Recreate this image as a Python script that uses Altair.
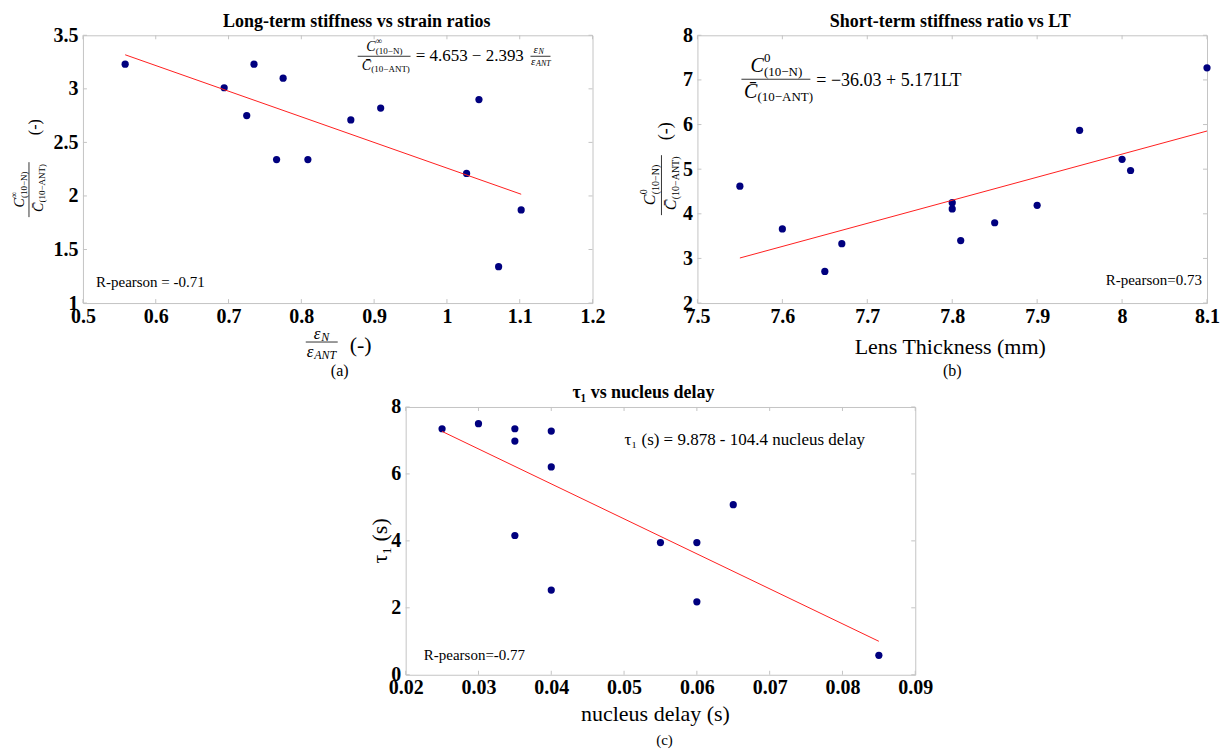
import altair as alt
import pandas as pd

# ---------------- data ----------------
# (a) long-term stiffness ratio vs strain ratio
a_strain = [0.558, 0.694, 0.725, 0.735, 0.766, 0.775, 0.809, 0.868, 0.909, 1.027, 1.044, 1.071, 1.102]
a_stiff = [3.23, 3.01, 2.75, 3.23, 2.34, 3.10, 2.34, 2.71, 2.82, 2.21, 2.90, 1.34, 1.87]
a_fit_x = [0.558, 1.102]
a_fit_y = [3.318, 2.016]
a_xticks = [0.5, 0.6, 0.7, 0.8, 0.9, 1.0, 1.1, 1.2]
a_yticks = [1.0, 1.5, 2.0, 2.5, 3.0, 3.5]

# (b) short-term stiffness ratio vs lens thickness
b_lt = [7.55, 7.60, 7.65, 7.67, 7.80, 7.80, 7.81, 7.85, 7.90, 7.95, 8.00, 8.01, 8.10]
b_ratio = [4.62, 3.66, 2.71, 3.33, 4.25, 4.11, 3.40, 3.80, 4.19, 5.87, 5.22, 4.97, 7.27]
b_fit_x = [7.55, 8.10]
b_fit_y = [3.01, 5.855]
b_xticks = [7.5, 7.6, 7.7, 7.8, 7.9, 8.0, 8.1]
b_yticks = [2, 3, 4, 5, 6, 7, 8]

# (c) tau1 vs nucleus delay
c_delay = [0.025, 0.030, 0.035, 0.035, 0.035, 0.040, 0.040, 0.040, 0.055, 0.060, 0.060, 0.065, 0.085]
c_tau = [7.35, 7.50, 7.35, 6.98, 4.16, 7.28, 6.21, 2.53, 3.95, 3.95, 2.18, 5.08, 0.58]
c_fit_x = [0.025, 0.085]
c_fit_y = [7.27, 1.00]
c_xticks = [0.02, 0.03, 0.04, 0.05, 0.06, 0.07, 0.08, 0.09]
c_yticks = [0, 2, 4, 6, 8]

titles = ["Long-term stiffness vs strain ratios", "Short-term stiffness ratio vs LT",
          "\u03c4\u2081 vs nucleus delay"]
r_texts = ["R-pearson =  -0.71", "R-pearson=0.73", "R-pearson=-0.77"]
panel_tags = ["(a)", "(b)", "(c)"]

# ---------------- style ----------------
FONT = "Liberation Serif"
GREY = "#c4c4c4"
NAVY = "#00007f"
RED = "#ff1f1f"
W, H = 510, 268
ONE = pd.DataFrame({"k": [0]})
CBAR = "C\u0304"


def xaxis(ticks):
    return alt.Axis(values=ticks, format="~g", title="", grid=False, ticks=False, domain=False,
                    labelFont=FONT, labelFontWeight="bold", labelFontSize=20, labelColor="black",
                    labelPadding=3, labelFlush=False, labelOverlap=False)


def yaxis(ticks):
    return alt.Axis(values=ticks, format="~g", title="", grid=False, ticks=False, domain=False,
                    labelFont=FONT, labelFontWeight="bold", labelFontSize=20, labelColor="black",
                    labelPadding=5, labelFlush=False, labelOverlap=False)


AXES = {
    "a": (xaxis(a_xticks), yaxis(a_yticks)),
    "b": (xaxis(b_xticks), yaxis(b_yticks)),
    "c": (xaxis(c_xticks), yaxis(c_yticks)),
}


def dtext(p, s, x, y, size, dx=0, dy=0, style="normal", align="left", baseline="alphabetic"):
    xa, ya = AXES[p]
    return alt.Chart(ONE).mark_text(text=s, font=FONT, fontSize=size, fontStyle=style,
                                    align=align, baseline=baseline, dx=dx, dy=dy,
                                    color="black").encode(
        x=alt.XDatum(datum=x, axis=xa), y=alt.YDatum(datum=y, axis=ya))


def drule(p, x1, x2, y):
    xa, ya = AXES[p]
    return alt.Chart(ONE).mark_rule(color="black", strokeWidth=0.8).encode(
        x=alt.XDatum(datum=x1, axis=xa), x2=alt.X2Datum(datum=x2), y=alt.YDatum(datum=y, axis=ya))


def ptext(s, x, y, size, angle=0, style="normal", align="left", baseline="alphabetic"):
    mk = dict(text=s, font=FONT, fontSize=size, fontStyle=style, align=align,
              baseline=baseline, color="black")
    if angle:
        mk["angle"] = angle
    return alt.Chart(ONE).mark_text(**mk).encode(x=alt.value(x), y=alt.value(y))


def prule(x1, y1, x2, y2):
    return alt.Chart(ONE).mark_rule(color="black", strokeWidth=0.8).encode(
        x=alt.value(x1), x2=alt.value(x2), y=alt.value(y1), y2=alt.value(y2))


def panel(p, xs, ys, fx, fy, xdom, ydom, xt, yt, title, tdx, toff, extras):
    xa, ya = AXES[p]
    xs_ = alt.Scale(domain=xdom, nice=False, zero=False)
    ys_ = alt.Scale(domain=ydom, nice=False, zero=False)
    pts = alt.Chart(pd.DataFrame({"x": xs, "y": ys})).mark_circle(
        size=52, color=NAVY, opacity=1).encode(
        x=alt.X("x:Q", scale=xs_, axis=xa), y=alt.Y("y:Q", scale=ys_, axis=ya))
    fit = alt.Chart(pd.DataFrame({"x": fx, "y": fy})).mark_line(color=RED, strokeWidth=1).encode(
        x=alt.X("x:Q", scale=xs_, axis=xa), y=alt.Y("y:Q", scale=ys_, axis=ya))
    xtd = alt.Chart(pd.DataFrame({"x": xt}))
    ytd = alt.Chart(pd.DataFrame({"y": yt}))
    tk = dict(color=GREY, strokeWidth=1)
    ticks = [
        xtd.mark_rule(**tk).encode(x=alt.X("x:Q", scale=xs_, axis=xa), y=alt.value(H), y2=alt.value(H - 4)),
        xtd.mark_rule(**tk).encode(x=alt.X("x:Q", scale=xs_, axis=xa), y=alt.value(0), y2=alt.value(4)),
        ytd.mark_rule(**tk).encode(y=alt.Y("y:Q", scale=ys_, axis=ya), x=alt.value(0), x2=alt.value(4)),
        ytd.mark_rule(**tk).encode(y=alt.Y("y:Q", scale=ys_, axis=ya), x=alt.value(W), x2=alt.value(W - 4)),
    ]
    return alt.layer(pts, *ticks, fit, *extras).properties(
        width=W, height=H,
        title=alt.TitleParams(title, font=FONT, fontSize=18, fontWeight="bold", color="black",
                              frame="group", offset=toff, dx=tdx))


# ---------- panel (a) annotations ----------
ax0, ay0 = 0.8774, 3.304
a_extra = [
    dtext("a", r_texts[0], 0.518, 1.2, 15, baseline="middle"),
    drule("a", ax0, 0.950, ay0),
    dtext("a", "C", ax0, ay0, 14, dx=8.7, dy=-5, style="italic"),
    dtext("a", "\u221e", ax0, ay0, 9, dx=18.2, dy=-12),
    dtext("a", "(10\u2212N)", ax0, ay0, 9, dx=18.2, dy=-2),
    dtext("a", CBAR, ax0, ay0, 14, dx=4.2, dy=14, style="italic"),
    dtext("a", "(10\u2212ANT)", ax0, ay0, 9, dx=13.7, dy=16),
    dtext("a", "= 4.653 \u2212 2.393", ax0, ay0, 17, dx=58, dy=5),
    drule("a", 1.1148, 1.1423, ay0),
    dtext("a", "\u03b5", ax0, ay0, 11, dx=176, dy=-3, style="italic"),
    dtext("a", "N", ax0, ay0, 8, dx=181, dy=-2, style="italic"),
    dtext("a", "\u03b5", ax0, ay0, 11, dx=173.5, dy=9, style="italic"),
    dtext("a", "ANT", ax0, ay0, 8, dx=178.5, dy=10, style="italic"),
    # x-axis title  eps_N / eps_ANT (-)
    prule(223, 307, 255, 307),
    ptext("\u03b5", 231, 304, 17, style="italic"),
    ptext("N", 238.5, 306, 12, style="italic"),
    ptext("\u03b5", 224, 322, 17, style="italic"),
    ptext("ANT", 231.5, 324, 12, style="italic"),
    ptext("(-)", 278, 310, 22, align="center", baseline="middle"),
    # y-axis title (rotated fraction)
    prule(-54, 127, -54, 182),
    ptext("C", -59, 172.3, 14, angle=270, style="italic"),
    ptext("\u221e", -66, 162.8, 9, angle=270),
    ptext("(10\u2212N)", -56, 162.8, 9, angle=270),
    ptext(CBAR, -40, 176.8, 14, angle=270, style="italic"),
    ptext("(10\u2212ANT)", -38, 167.3, 9, angle=270),
    ptext("(-)", -48, 92, 16, angle=270, align="center", baseline="middle"),
    ptext(panel_tags[0], 257, 336, 16, align="center", baseline="middle"),
]

# ---------- panel (b) annotations ----------
bx0, by0 = 7.5518, 7.015
b_extra = [
    dtext("b", r_texts[1], 8.094, 2.515, 15, align="right", baseline="middle"),
    drule("b", bx0, 7.633, by0),
    dtext("b", "C", bx0, by0, 20, dx=9, dy=-7, style="italic"),
    dtext("b", "0", bx0, by0, 13, dx=22.6, dy=-17),
    dtext("b", "(10\u2212N)", bx0, by0, 13, dx=22.6, dy=-3),
    dtext("b", CBAR, bx0, by0, 20, dx=2.5, dy=19, style="italic"),
    dtext("b", "(10\u2212ANT)", bx0, by0, 13, dx=16, dy=22),
    dtext("b", "= \u221236.03 + 5.171LT", bx0, by0, 18, dx=75, dy=7),
    ptext("Lens Thickness (mm)", 253, 312, 22, align="center", baseline="middle"),
    # y-axis title (rotated fraction)
    prule(-36, 120, -36, 180),
    ptext("C", -42, 170, 16, angle=270, style="italic"),
    ptext("0", -50, 159.1, 10, angle=270),
    ptext("(10\u2212N)", -38, 159.1, 10, angle=270),
    ptext(CBAR, -21, 175, 16, angle=270, style="italic"),
    ptext("(10\u2212ANT)", -18, 164.1, 10, angle=270),
    ptext("(-)", -31, 96, 18, angle=270, align="center", baseline="middle"),
    ptext(panel_tags[1], 255, 336, 16, align="center", baseline="middle"),
]

# ---------- panel (c) annotations ----------
c_extra = [
    dtext("c", r_texts[2], 0.0225, 0.6, 15, baseline="middle"),
    dtext("c", "\u03c4\u2081 (s) = 9.878 - 104.4 nucleus delay", 0.05006, 7.01, 17, baseline="middle"),
    ptext("nucleus delay (s)", 250, 307, 22, align="center", baseline="middle"),
    ptext("\u03c4\u2081 (s)", -26, 134, 22, angle=270, align="center", baseline="middle"),
    ptext(panel_tags[2], 259, 333, 15, align="center", baseline="middle"),
]

pa = panel("a", a_strain, a_stiff, a_fit_x, a_fit_y, [0.5, 1.2], [1, 3.5], a_xticks, a_yticks,
           titles[0], 19, -6, a_extra)
pb = panel("b", b_lt, b_ratio, b_fit_x, b_fit_y, [7.5, 8.1], [2, 8], b_xticks, b_yticks,
           titles[1], -2, -6, b_extra)
pc = panel("c", c_delay, c_tau, c_fit_x, c_fit_y, [0.02, 0.09], [0, 8], c_xticks, c_yticks,
           titles[2], -17, -5, c_extra)

SPACER_W = 303
spacer = alt.Chart(ONE).mark_rule(opacity=0).encode(
    x=alt.value(0), x2=alt.value(SPACER_W), y=alt.value(0)).properties(
    width=SPACER_W, height=H, view=alt.ViewBackground(stroke="transparent"))

top_row = alt.hconcat(pa, pb, spacing=105, bounds="flush")
bottom_row = alt.hconcat(spacer, pc, spacing=20, bounds="flush")

chart = alt.vconcat(top_row, bottom_row, spacing=3).properties(
    padding={"left": 1, "top": 4, "right": 0, "bottom": 0},
    background="white",
).configure_view(stroke=GREY, strokeWidth=1)

chart.save("out.html", embed_options={"renderer": "svg", "actions": False})
